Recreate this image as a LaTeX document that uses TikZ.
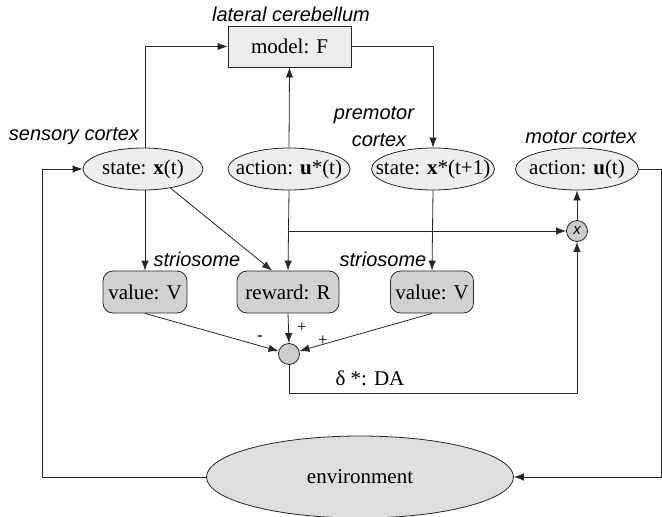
\documentclass[tikz,border=0pt]{standalone}
\usepackage{fontspec}
\setmainfont{Liberation Serif}
\newfontfamily\labelfont{Liberation Sans}
\usetikzlibrary{arrows.meta,shapes.geometric,calc}
\newcommand{\zerowide}[1]{\makebox[0pt]{#1}}
\begin{document}
\begin{tikzpicture}[x=1pt,y=-1pt,
  line width=0.8pt, draw=black!85,
  arr/.style={draw=black!85,-{Latex[length=10pt,width=7.5pt]}},
  txt/.style={font=\fontsize{21}{24}\selectfont},
  oval/.style={ellipse,draw,fill=black!7,inner sep=0pt,minimum height=42pt,txt},
  rbox/.style={rectangle,rounded corners=10pt,draw,fill=black!18,inner sep=0pt,minimum height=42pt,txt},
  area/.style={font=\labelfont\itshape\fontsize{20}{27}\selectfont,inner sep=0pt},
  sign/.style={font=\fontsize{17}{17}\selectfont,inner sep=0pt},
  junction/.style={circle,draw,fill=black!20,inner sep=0pt,minimum size=21pt}]
\useasboundingbox (0,0) rectangle (662,517);

% cerebellar forward model
\node[rectangle,draw,fill=black!7,minimum width=123pt,minimum height=41pt,inner sep=0pt,txt] (model) at (289.5,46.5) {model: F};
\node[area] (lclab) at (291,14) {lateral cerebellum};

% cortical states and actions
\node[oval,minimum width=120pt] (sx) at (143,169) {\zerowide{state: \textbf{x}(t)}};
\node[oval,minimum width=122pt] (au) at (289,169) {\zerowide{action: \textbf{u}*(t)}};
\node[oval,minimum width=123pt] (sxp) at (433,169) {\zerowide{state: \textbf{x}*(t+1)}};
\node[oval,minimum width=123pt] (mx) at (577,169) {\zerowide{action: \textbf{u}(t)}};
\node[area] (sclab) at (74,136) {sensory cortex};
\node[area,align=center] (pmlab) at (374,127) {premotor\\\hspace*{10pt}cortex};
\node[area] (mclab) at (581,137) {motor cortex};

% striatal evaluation
\node[rbox,minimum width=84pt] (vl) at (145,292) {value: V};
\node[rbox,minimum width=102pt] (rw) at (288,292) {reward: R};
\node[rbox,minimum width=83pt] (vr) at (432,292) {value: V};
\node[area] (st1) at (197,259) {striosome};
\node[area] (st2) at (383,259) {striosome};

% junctions
\node[junction] (sum) at (289,354) {};
\node[junction] (mul) at (577,231) {\labelfont\itshape\fontsize{15}{15}\selectfont x};

% environment
\node[ellipse,draw,fill=black!13,minimum width=307pt,minimum height=82pt,inner sep=0pt,txt] (env) at (360,477) {\zerowide{environment}};

\coordinate (wl) at (42,0);
\coordinate (wr) at (661,0);
\coordinate (dabot) at (577,393);

% forward model loop
\draw[arr] (sx.north -| 145,0) |- (model.west);
\draw[arr] (au.north) -- (model.south);
\draw[arr] (model.east) -| (sxp.north);

% evaluation paths
\draw[arr] (sx.south -| 145,0) -- (vl.north);
\draw[arr] (170,187.7) -- ($(rw.north)+(-16,0)$);
\draw[arr] (au.south) -- (rw.north);
\draw[arr] (au.south |- mul) -- (mul.west);
\draw[arr] (sxp.south) -- (vr.north);
\draw[arr] (vl.south) -- (sum);
\draw[arr] (rw.south) -- (sum.north);
\draw[arr] (vr.south) -- (sum);
\node[sign] (mn) at (260,338) {-};
\node[sign] (p1) at (302,328) {+};
\node[sign] (p2) at (323,341) {+};

% dopamine signal gating the action
\draw[arr] (sum.south) -- (sum.south |- dabot) -- (dabot) -- (mul.south);
\node[txt,inner sep=0pt] (da) at (370,378) {δ *: DA};
\draw[arr] (mul.north) -- (mx.south);

% loop through the environment
\draw[arr] (mx.east) -| (wr |- env) -- (env.east);
\draw[arr] (env.west) -| (wl |- sx) -- (sx.west);
\end{tikzpicture}
\end{document}
